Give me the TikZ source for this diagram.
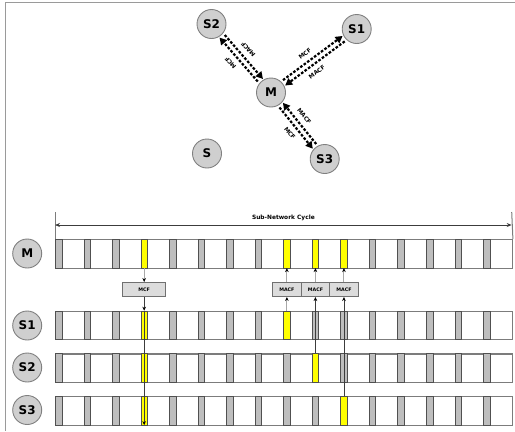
\documentclass[tikz,border=0pt]{standalone}
\usepackage{fontspec}
\setmainfont{DejaVu Sans}
\usetikzlibrary{arrows.meta,calc}

\definecolor{stationfill}{HTML}{CFCFCF}
\definecolor{stationedge}{HTML}{808080}
\definecolor{framegray}{HTML}{9A9A9A}
\definecolor{rowedge}{HTML}{7C7C7C}
\definecolor{baredge}{HTML}{505050}
\definecolor{barfill}{HTML}{BEBEBE}
\definecolor{slotyellow}{HTML}{FFFF00}
\definecolor{boxfill}{HTML}{DCDCDC}
\definecolor{boxedge}{HTML}{707070}
\definecolor{feedgray}{HTML}{A8A8A8}
\definecolor{feeddark}{HTML}{3C3C3C}

\begin{document}
\begin{tikzpicture}[x=1bp,y=-1bp,
  station/.style={circle,draw=stationedge,fill=stationfill,line width=0.9bp,
    minimum size=29bp,inner sep=0pt,font=\bfseries\fontsize{12}{14}\selectfont},
  msgline/.style={line width=2.2bp,dash pattern=on 2.6bp off 1.7bp,
    -{Triangle[length=7bp,width=7.5bp]}},
  msglabel/.style={font=\bfseries\fontsize{5.8}{6}\selectfont,inner sep=0.5bp,
    outer sep=5.5bp,pos=0.5},
  rowbox/.style={draw=rowedge,line width=1.2bp,minimum width=456.7bp,
    minimum height=28.5bp,inner sep=0pt,anchor=north west},
  slotbar/.style={draw=baredge,line width=0.6bp,minimum width=6.5bp,
    minimum height=28.5bp,inner sep=0pt,anchor=north west},
  framebox/.style={draw=boxedge,fill=boxfill,line width=0.8bp,minimum height=14.2bp,
    inner sep=0pt,font=\bfseries\fontsize{4.8}{5}\selectfont},
  feedlight/.style={draw=feedgray,line width=1bp,
    -{Stealth[length=4bp,width=3.6bp,color=black]}},
  feeddarkline/.style={draw=feeddark,line width=0.9bp,
    -{Stealth[length=4bp,width=3.6bp,color=black]}},
  cycletick/.style={draw=rowedge,line width=1bp},
  cyclearrow/.style={draw=feeddark,line width=0.9bp,
    {Stealth[length=5bp,width=4bp]}-{Stealth[length=5bp,width=4bp]}}
]
\useasboundingbox (0,0) rectangle (515,431);

% outer frame (top and left edges)
\draw[framegray,line width=1.5bp] (515,2.7) -- (5.5,2.7) -- (5.5,431);

% ---------------- network topology ----------------
\node[station] (S2) at (211.5,24) {S2};
\node[station] (S1) at (356.7,29) {S1};
\node[station] (M)  at (271,92.5) {M};
\node[station] (S3) at (324.7,159) {S3};
\node[station] (S)  at (207,153.5) {S};

% M <-> S2
\draw[msgline] ($(S2)!17bp!(M)!2.8bp!90:(M)$) -- ($(M)!15.5bp!(S2)!2.8bp!-90:(S2)$)
  node[msglabel,rotate=131,anchor=north,pos=0.45] {MACF};
\draw[msgline] ($(M)!17bp!(S2)!2.8bp!90:(S2)$) -- ($(S2)!15.5bp!(M)!2.8bp!-90:(M)$)
  node[msglabel,rotate=131,anchor=south,pos=0.55] {MCF};
% M <-> S1
\draw[msgline] ($(M)!17bp!(S1)!2.8bp!90:(S1)$) -- ($(S1)!15.5bp!(M)!2.8bp!-90:(M)$)
  node[msglabel,rotate=36.5,anchor=south,pos=0.45] {MCF};
\draw[msgline] ($(S1)!17bp!(M)!2.8bp!90:(M)$) -- ($(M)!15.5bp!(S1)!2.8bp!-90:(S1)$)
  node[msglabel,rotate=36.5,anchor=north,pos=0.55] {MACF};
% M <-> S3
\draw[msgline] ($(M)!17bp!(S3)!2.8bp!-90:(S3)$) -- ($(S3)!15.5bp!(M)!2.8bp!90:(M)$)
  node[msglabel,rotate=-51,anchor=north,pos=0.5] {MCF};
\draw[msgline] ($(S3)!17bp!(M)!2.8bp!-90:(M)$) -- ($(M)!15.5bp!(S3)!2.8bp!90:(S3)$)
  node[msglabel,rotate=-51,anchor=south,pos=0.55] {MACF};

% ---------------- sub-network cycle timeline ----------------
\node[station] (lM)  at (27.2,253.5) {M};
\node[station] (lS1) at (27.2,325.5) {S1};
\node[station] (lS2) at (27.2,367.5) {S2};
\node[station] (lS3) at (27.2,410)   {S3};

\foreach \r/\y/\hl in {M/239/{3,8,9,10}, S1/310.7/{3,8}, S2/353.3/{3,9}, S3/396/{3,10}} {
  \node[rowbox] (\r row) at (55,\y) {};
  \foreach \i in {0,...,15} {
    \gdef\slotcolor{barfill}
    \foreach \h in \hl {\ifnum\h=\i\relax\gdef\slotcolor{slotyellow}\fi}
    \node[slotbar,fill=\slotcolor] (\r-\i) at ({55+\i*28.54},\y) {};
  }
}

% cycle length marker
\coordinate (cycL) at (55,212);
\coordinate (cycR) at (511.7,212);
\coordinate (arrL) at (55,225);
\coordinate (arrR) at (511.7,225);
\draw[cycletick] (cycL) -- (Mrow.north west);
\draw[cycletick] (cycR) -- (Mrow.north east);
\draw[cyclearrow] (arrL) -- (arrR);
\node[font=\bfseries\fontsize{5.9}{7}\selectfont,inner sep=0pt] (cyclabel)
  at (283.4,217.5) {Sub-Network Cycle};

% frames exchanged within the cycle
\coordinate (boxline) at (0,289.5);
\node[framebox,minimum width=43bp]   (mcf)   at (M-3.center |- boxline)  {MCF};
\node[framebox,minimum width=28.5bp] (macf1) at (M-8.center |- boxline)  {MACF};
\node[framebox,minimum width=28.5bp] (macf2) at (M-9.center |- boxline)  {MACF};
\node[framebox,minimum width=28.5bp] (macf3) at (M-10.center |- boxline) {MACF};

\draw[feedlight] (M-3.south) -- (mcf.north);
\draw[feeddarkline] (mcf.south) -- (S1-3.north);
\draw[feeddarkline] (S1-3.north) -- (S3-3.south);

\draw[feedlight] (macf1.north) -- (M-8.south);
\draw[feedlight] (S1-8.north) -- (macf1.south);
\draw[feedlight] (macf2.north) -- (M-9.south);
\draw[feeddarkline] (S2-9.north) -- (macf2.south);
\draw[feedlight] (macf3.north) -- (M-10.south);
\draw[feeddarkline] (S3-10.north) -- (macf3.south);
\end{tikzpicture}
\end{document}
